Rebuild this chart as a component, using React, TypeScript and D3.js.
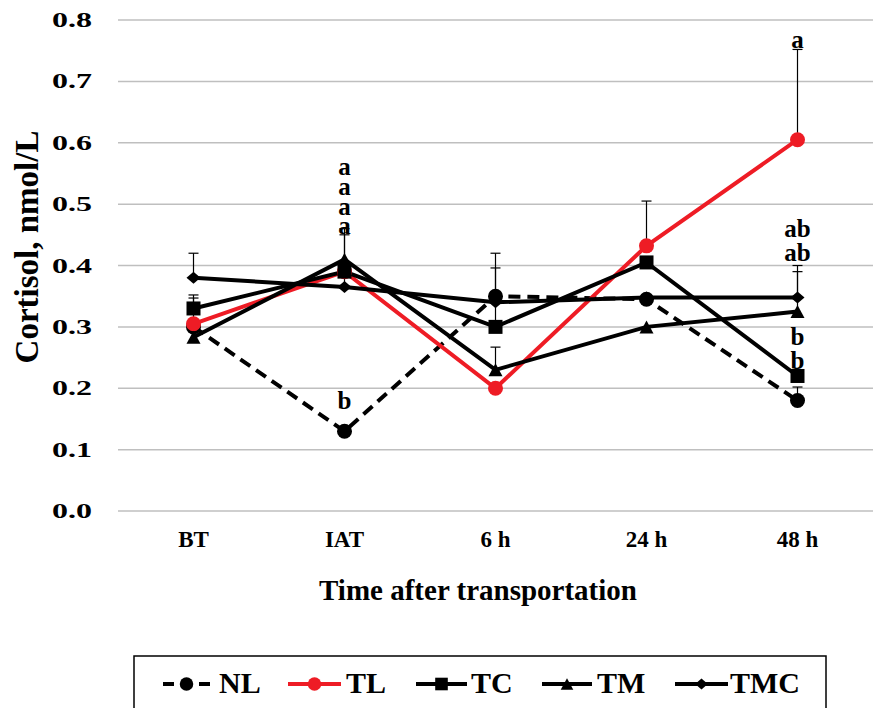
import React from "react";
import * as d3 from "d3";

const categories = ["BT", "IAT", "6 h", "24 h", "48 h"];
const yTicks = [0, 0.1, 0.2, 0.3, 0.4, 0.5, 0.6, 0.7, 0.8];
const seriesNames = ["NL", "TL", "TC", "TM", "TMC"];
const NL = [0.3, 0.13, 0.35, 0.345, 0.18];
const TL = [0.305, 0.39, 0.2, 0.432, 0.605];
const TC = [0.33, 0.39, 0.3, 0.405, 0.22];
const TM = [0.283, 0.41, 0.23, 0.3, 0.325];
const TMC = [0.38, 0.365, 0.34, 0.348, 0.348];
// upper error (SE) magnitudes; 0 = not visible
const NLse = [0, 0, 0.07, 0, 0.022];
const TLse = [0.042, 0, 0, 0.073, 0.147];
const TCse = [0.022, 0, 0.096, 0, 0];
const TMse = [0, 0.05, 0.037, 0, 0.065];
const TMCse = [0.04, 0.085, 0, 0, 0.052];
// significance letters: [category index, value position, text]
const letters: [number, number, string][] = [
  [1, 0.559, "a"],
  [1, 0.527, "a"],
  [1, 0.494, "a"],
  [1, 0.464, "a"],
  [1, 0.178, "b"],
  [4, 0.766, "a"],
  [4, 0.458, "ab"],
  [4, 0.42, "ab"],
  [4, 0.282, "b"],
  [4, 0.243, "b"],
];

const W = 880, H = 708;
const FONT = "'Liberation Serif', 'Times New Roman', serif";

export default function App() {
  const x = d3.scaleBand().domain(categories).range([118, 873]);
  const y = d3.scaleLinear().domain([0, 0.8]).range([511, 20]);
  const cx = (i: number) => (x(categories[i]) as number) + x.bandwidth() / 2;
  const line = d3.line<number>().x((_, i) => cx(i)).y((d) => y(d));

  const series = [
    { name: "NL", vals: NL, se: NLse, color: "#000", dash: "12,7", marker: "circle" },
    { name: "TL", vals: TL, se: TLse, color: "#ee1c25", dash: null, marker: "circle" },
    { name: "TC", vals: TC, se: TCse, color: "#000", dash: null, marker: "square" },
    { name: "TM", vals: TM, se: TMse, color: "#000", dash: null, marker: "triangle" },
    { name: "TMC", vals: TMC, se: TMCse, color: "#000", dash: null, marker: "diamond" },
  ];

  const marker = (type: string, px: number, py: number, color: string, s = 1, key?: any) => {
    if (type === "circle") return <circle key={key} cx={px} cy={py} r={7.5 * s} fill={color} />;
    if (type === "square") return <rect key={key} x={px - 7 * s} y={py - 7 * s} width={14 * s} height={14 * s} fill={color} />;
    if (type === "triangle") {
      const hw = 7 * s, hh = 6.5 * s;
      return <path key={key} d={`M${px},${py - hh}L${px + hw},${py + hh}L${px - hw},${py + hh}Z`} fill={color} />;
    }
    const hw = 7 * s, hh = 6 * s;
    return <path key={key} d={`M${px},${py - hh}L${px + hw},${py}L${px},${py + hh}L${px - hw},${py}Z`} fill={color} />;
  };

  const legendLine: [number, number][] = [[163, 210], [288, 341], [416, 467], [542, 592], [675, 728]];
  const legendText = [219, 346, 471, 597, 730];
  const ly = 684;

  return (
    <svg width={W} height={H} style={{ position: "absolute", left: 0, top: 0, background: "#fff" }}>
      <rect width={W} height={H} fill="#fff" />
      {yTicks.map((t) => (
        <g key={t}>
          <line x1={118} x2={873} y1={y(t)} y2={y(t)} stroke="#bfbfbf" strokeWidth={1.5} />
          <text transform={`translate(92,${y(t)}) scale(1.6,1)`} dy="0.35em" textAnchor="end"
            fontFamily={FONT} fontWeight="bold" fontSize={20}>
            {t.toFixed(1)}
          </text>
        </g>
      ))}
      {categories.map((c, i) => (
        <text key={c} x={cx(i)} y={547} textAnchor="middle" fontFamily={FONT} fontWeight="bold" fontSize={23}>
          {c}
        </text>
      ))}
      <text x={478} y={600} textAnchor="middle" fontFamily={FONT} fontWeight="bold" fontSize={29}>
        Time after transportation
      </text>
      <text transform={`translate(38,247) rotate(-90)`} textAnchor="middle" fontFamily={FONT} fontWeight="bold" fontSize={33}>
        Cortisol, nmol/L
      </text>
      {/* error bars */}
      {series.map((s) =>
        s.vals.map((v, i) =>
          s.se[i] > 0 ? (
            <g key={s.name + "e" + i}>
              <line x1={cx(i)} x2={cx(i)} y1={y(v)} y2={y(v + s.se[i])} stroke="#000" strokeWidth={1.2} />
              <line x1={cx(i) - 5} x2={cx(i) + 5} y1={y(v + s.se[i])} y2={y(v + s.se[i])} stroke="#000" strokeWidth={1.2} />
            </g>
          ) : null
        )
      )}
      {series.map((s) => (
        <path key={s.name} d={line(s.vals) as string} fill="none" stroke={s.color} strokeWidth={4}
          strokeDasharray={s.dash ?? undefined} />
      ))}
      {series.map((s) => s.vals.map((v, i) => marker(s.marker, cx(i), y(v), s.color, 1, s.name + "m" + i)))}
      {letters.map(([i, v, t], k) => (
        <text key={k} x={cx(i)} y={y(v)} dy="0.3em" textAnchor="middle" fontFamily={FONT} fontWeight="bold" fontSize={25}>
          {t}
        </text>
      ))}
      {/* legend */}
      <rect x={134} y={656} width={692} height={70} fill="#fff" stroke="#000" strokeWidth={1.5} />
      {series.map((s, k) => (
        <g key={s.name + "leg"}>
          <line x1={legendLine[k][0]} x2={legendLine[k][1]} y1={ly} y2={ly} stroke={s.color} strokeWidth={4}
            strokeDasharray={s.dash ? "11,25" : undefined} />
          {marker(s.marker, (legendLine[k][0] + legendLine[k][1]) / 2, ly, s.color, 0.9)}
          <text x={legendText[k]} y={693} fontFamily={FONT} fontWeight="bold" fontSize={30}>
            {seriesNames[k]}
          </text>
        </g>
      ))}
    </svg>
  );
}
